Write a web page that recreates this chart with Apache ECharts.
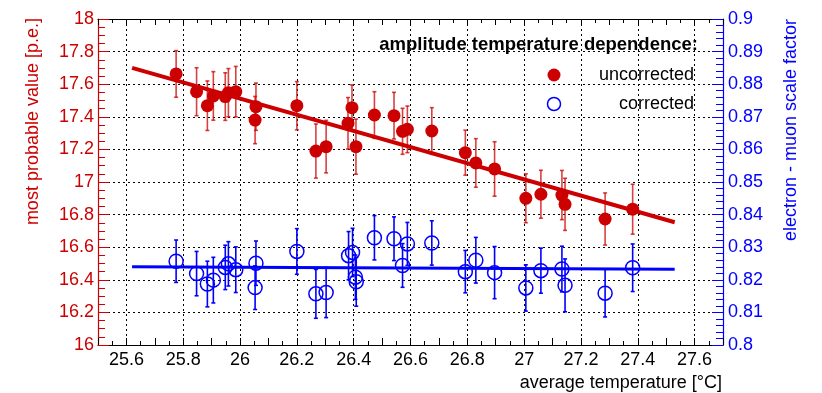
<!DOCTYPE html>
<html>
<head>
<meta charset="utf-8">
<title>amplitude temperature dependence</title>
<script src="https://cdn.jsdelivr.net/npm/echarts@6/dist/echarts.min.js"></script>
<style>
    html, body { margin: 0; padding: 0; background: #fff; }
    #chart { width: 822px; height: 393px; }
</style>
</head>
<body>
<div id="chart"></div>
<script>
// Uncorrected: most probable value [p.e.] vs average temperature
const tempUncorrected = [25.775, 25.847, 25.885, 25.906, 25.948, 25.959, 25.985, 26.053, 26.056, 26.200,
    26.267, 26.303, 26.380, 26.394, 26.408, 26.473, 26.542, 26.572, 26.589, 26.675,
    26.793, 26.830, 26.896, 27.006, 27.059, 27.133, 27.144, 27.285, 27.382];
const mpvUncorrected = [17.663, 17.554, 17.468, 17.528, 17.524, 17.548, 17.554, 17.380, 17.462, 17.468,
    17.190, 17.217, 17.360, 17.456, 17.217, 17.411, 17.407, 17.311, 17.323, 17.313,
    17.180, 17.117, 17.080, 16.900, 16.925, 16.920, 16.863, 16.773, 16.833];
const errUncorrected = [0.143, 0.147, 0.152, 0.149, 0.146, 0.148, 0.155, 0.145, 0.145, 0.148,
    0.166, 0.161, 0.158, 0.140, 0.169, 0.143, 0.143, 0.141, 0.143, 0.143,
    0.138, 0.149, 0.167, 0.150, 0.147, 0.151, 0.160, 0.160, 0.153];

// Corrected: electron - muon scale factor vs average temperature
const tempCorrected = [25.775, 25.847, 25.885, 25.906, 25.948, 25.959, 25.985, 26.053, 26.056, 26.200,
    26.267, 26.303, 26.382, 26.396, 26.406, 26.409, 26.473, 26.542, 26.572, 26.589,
    26.675, 26.793, 26.830, 26.896, 27.006, 27.059, 27.133, 27.144, 27.285, 27.382];
const sfCorrected = [0.8257, 0.8219, 0.8187, 0.8199, 0.8238, 0.8249, 0.8231, 0.8176, 0.8251, 0.8287,
    0.8157, 0.8161, 0.8274, 0.8284, 0.8208, 0.8194, 0.8329, 0.8326, 0.8244, 0.8310,
    0.8313, 0.8225, 0.8260, 0.8222, 0.8175, 0.8228, 0.8233, 0.8183, 0.8159, 0.8237];
const errCorrected = [0.0065, 0.0068, 0.0070, 0.0070, 0.0068, 0.0068, 0.0070, 0.0067, 0.0068, 0.0070,
    0.0075, 0.0077, 0.0074, 0.0074, 0.0068, 0.0075, 0.0068, 0.0067, 0.0067, 0.0066,
    0.0068, 0.0065, 0.0070, 0.0080, 0.0071, 0.0069, 0.0070, 0.0081, 0.0073, 0.0073];

// Linear fits (end points)
const fitTemp = [25.62, 27.53];
const fitUncorrected = [17.70, 16.753];
const fitCorrected = [0.8240, 0.8232];

// Axis ranges
const xRange = [25.5, 27.7];
const yLeftRange = [16, 18];
const yRightRange = [0.8, 0.9];

const RED = '#cc0000';
const BLUE = '#0000ff';
const FONT = "'Liberation Sans', Arial, Helvetica, sans-serif";

document.addEventListener('DOMContentLoaded', function() {
    initializeChart();
});

function zip3(a, b, c) {
    return a.map((v, i) => [v, b[i], c[i]]);
}

// Error bars with small caps, drawn through the library's scales
function errorBarRenderer(color) {
    return function(params, api) {
        const x = api.value(0);
        const y = api.value(1);
        const e = api.value(2);
        const top = api.coord([x, y + e]);
        const bottom = api.coord([x, y - e]);
        const cap = 2;
        const style = { stroke: color, lineWidth: 1.6 };
        return {
            type: 'group',
            children: [
                { type: 'line', shape: { x1: top[0], y1: top[1], x2: bottom[0], y2: bottom[1] }, style: style },
                { type: 'line', shape: { x1: top[0] - cap, y1: top[1], x2: top[0] + cap, y2: top[1] }, style: style },
                { type: 'line', shape: { x1: bottom[0] - cap, y1: bottom[1], x2: bottom[0] + cap, y2: bottom[1] }, style: style }
            ]
        };
    };
}

function trimNumber(v, digits) {
    return String(parseFloat(v.toFixed(digits)));
}

function initializeChart() {
    const chart = echarts.init(document.getElementById('chart'), null, { renderer: 'canvas' });

    const dotted = { color: '#000', type: [2, 3], width: 1 };

    const option = {
        animation: false,
        backgroundColor: '#fff',
        textStyle: { fontFamily: FONT },
        grid: { left: 98, right: 99, top: 19, bottom: 48, containLabel: false },
        xAxis: [{
            type: 'value',
            position: 'bottom',
            min: xRange[0],
            max: xRange[1],
            interval: 0.1,
            axisLine: { show: true, onZero: false, lineStyle: { color: '#000', width: 1.2 } },
            axisTick: { show: true, inside: true, length: 7, lineStyle: { color: '#000' } },
            minorTick: { show: true, splitNumber: 2, length: 4, lineStyle: { color: '#000' } },
            axisLabel: {
                color: '#000', fontSize: 18, fontFamily: FONT, margin: 6,
                formatter: function(v) {
                    return Math.round(v * 10) % 2 === 0 ? trimNumber(v, 1) : '';
                }
            },
            splitLine: {
                show: true,
                lineStyle: { color: ['rgba(0,0,0,0)', '#000'], type: [2, 3], width: 1 }
            }
        }, {
            type: 'value',
            position: 'top',
            min: xRange[0],
            max: xRange[1],
            interval: 0.1,
            axisLine: { show: true, onZero: false, lineStyle: { color: '#000', width: 1.2 } },
            axisTick: { show: true, inside: true, length: 6, lineStyle: { color: '#000' } },
            minorTick: { show: true, splitNumber: 2, length: 4, lineStyle: { color: '#000' } },
            axisLabel: { show: false },
            splitLine: { show: false }
        }],
        yAxis: [{
            type: 'value',
            position: 'left',
            min: yLeftRange[0],
            max: yLeftRange[1],
            interval: 0.2,
            axisLine: { show: true, onZero: false, lineStyle: { color: RED, width: 1.2 } },
            axisTick: { show: true, inside: true, length: 11, lineStyle: { color: RED } },
            minorTick: { show: true, splitNumber: 4, length: 7, lineStyle: { color: RED } },
            axisLabel: {
                color: RED, fontSize: 18, fontFamily: FONT, margin: 4,
                formatter: v => trimNumber(v, 1)
            },
            splitLine: { show: true, lineStyle: dotted }
        }, {
            type: 'value',
            position: 'right',
            min: yRightRange[0],
            max: yRightRange[1],
            interval: 0.01,
            axisLine: { show: true, onZero: false, lineStyle: { color: BLUE, width: 1.2 } },
            axisTick: { show: true, inside: true, length: 11, lineStyle: { color: BLUE } },
            minorTick: { show: true, splitNumber: 5, length: 7, lineStyle: { color: BLUE } },
            axisLabel: {
                color: BLUE, fontSize: 18, fontFamily: FONT, margin: 5,
                formatter: v => trimNumber(v, 2)
            },
            splitLine: { show: false }
        }],
        graphic: [
            // axis titles
            {
                type: 'text', x: 33, y: 18, rotation: Math.PI / 2,
                style: { text: 'most probable value [p.e.]', fill: RED, font: '18px ' + FONT, align: 'right', verticalAlign: 'middle' }
            },
            {
                type: 'text', x: 791, y: 19, rotation: Math.PI / 2,
                style: { text: 'electron - muon scale factor', fill: BLUE, font: '18px ' + FONT, align: 'right', verticalAlign: 'middle' }
            },
            {
                type: 'text', x: 722, y: 383,
                style: { text: 'average temperature [°C]', fill: '#000', font: '18px ' + FONT, align: 'right', verticalAlign: 'middle' }
            },
            // legend
            {
                type: 'text', x: 698, y: 45, z: 20,
                style: { text: 'amplitude temperature dependence:', fill: '#000', font: 'bold 18.5px ' + FONT, align: 'right', verticalAlign: 'middle' }
            },
            {
                type: 'circle', shape: { cx: 554, cy: 75, r: 6.5 }, z: 20,
                style: { fill: RED }
            },
            {
                type: 'text', x: 694, y: 75, z: 20,
                style: { text: 'uncorrected', fill: '#000', font: '18px ' + FONT, align: 'right', verticalAlign: 'middle' }
            },
            {
                type: 'circle', shape: { cx: 554, cy: 104, r: 6.5 }, z: 20,
                style: { fill: '#fff', stroke: BLUE, lineWidth: 1.5 }
            },
            {
                type: 'text', x: 694, y: 104, z: 20,
                style: { text: 'corrected', fill: '#000', font: '18px ' + FONT, align: 'right', verticalAlign: 'middle' }
            }
        ],
        series: [
            {
                name: 'uncorrected errors',
                type: 'custom',
                xAxisIndex: 0,
                yAxisIndex: 0,
                renderItem: errorBarRenderer('rgba(204,0,0,0.75)'),
                encode: { x: 0, y: 1 },
                data: zip3(tempUncorrected, mpvUncorrected, errUncorrected),
                clip: false,
                z: 3
            },
            {
                name: 'uncorrected',
                type: 'scatter',
                xAxisIndex: 0,
                yAxisIndex: 0,
                symbol: 'circle',
                symbolSize: 13,
                itemStyle: { color: RED, opacity: 1 },
                data: tempUncorrected.map((t, i) => [t, mpvUncorrected[i]]),
                z: 4
            },
            {
                name: 'uncorrected fit',
                type: 'line',
                xAxisIndex: 0,
                yAxisIndex: 0,
                showSymbol: false,
                lineStyle: { color: RED, width: 4 },
                data: fitTemp.map((t, i) => [t, fitUncorrected[i]]),
                z: 5
            },
            {
                name: 'corrected errors',
                type: 'custom',
                xAxisIndex: 0,
                yAxisIndex: 1,
                renderItem: errorBarRenderer(BLUE),
                encode: { x: 0, y: 1 },
                data: zip3(tempCorrected, sfCorrected, errCorrected),
                clip: false,
                z: 6
            },
            {
                name: 'corrected',
                type: 'scatter',
                xAxisIndex: 0,
                yAxisIndex: 1,
                symbol: 'circle',
                symbolSize: 14,
                itemStyle: { color: 'rgba(255,255,255,0)', borderColor: BLUE, borderWidth: 1.5, opacity: 1 },
                data: tempCorrected.map((t, i) => [t, sfCorrected[i]]),
                z: 7
            },
            {
                name: 'corrected fit',
                type: 'line',
                xAxisIndex: 0,
                yAxisIndex: 1,
                showSymbol: false,
                lineStyle: { color: BLUE, width: 3 },
                data: fitTemp.map((t, i) => [t, fitCorrected[i]]),
                z: 8
            }
        ]
    };

    chart.setOption(option);

    window.addEventListener('resize', function() {
        chart.resize();
    });
}
</script>
</body>
</html>
